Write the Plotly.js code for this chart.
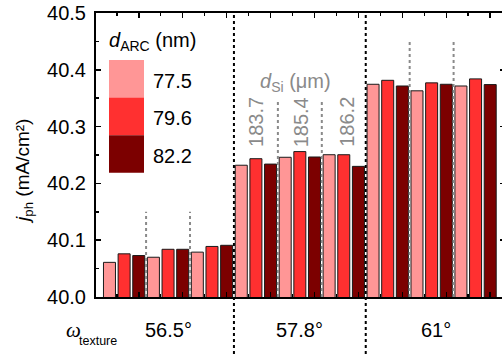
<!DOCTYPE html>
<html><head><meta charset="utf-8">
<script src="https://cdn.plot.ly/plotly-3.0.1.min.js"></script>
<style>html,body{margin:0;padding:0;background:#fff;overflow:hidden}#chart{width:506px;height:354px}</style>
</head><body><div id="chart"></div>
<script>
// ---- data ----
const textures = ['56.5°', '57.8°', '61°'];
const dSi = ['183.7', '185.4', '186.2'];
const dARC = ['77.5', '79.6', '82.2'];
const colors = ['#FF9696', '#FF3030', '#7C0000'];
// j_ph (mA/cm²) for each d_ARC, ordered texture-major then d_Si
const jph_775 = [40.061, 40.070, 40.079, 40.232, 40.246, 40.2505, 40.3745, 40.363, 40.3715];
const jph_796 = [40.076, 40.084, 40.089, 40.2435, 40.256, 40.2505, 40.3815, 40.377, 40.384];
const jph_822 = [40.073, 40.084, 40.091, 40.234, 40.2465, 40.230, 40.3715, 40.3745, 40.374];
const series = [jph_775, jph_796, jph_822];
// top of gray dotted d_Si separators per texture group
const sepTop = [40.15, 40.347, 40.452];

// ---- build ----
const nA = dARC.length, nS = dSi.length, nT = textures.length;
const traces = series.map((vals, a) => ({
  type: 'bar',
  x: vals.map((v, k) => k * nA + a),
  y: vals,
  width: 0.82,
  marker: {color: colors[a], line: {color: '#1a1a1a', width: 1}},
  showlegend: false,
  hoverinfo: 'y'
}));

const W = 506, H = 354, L = 96, R = 1, T = 13, B = 57;
const pw = W - L - R, ph = H - T - B;
const px = x => (x - L) / pw;
const py = y => (H - B - y) / ph;

const shapes = [], annotations = [];
const groupW = nA * nS;
// black dotted texture separators
for (let t = 1; t < nT; t++) {
  shapes.push({type: 'line', xref: 'x', yref: 'paper', x0: t * groupW - 0.5, x1: t * groupW - 0.5,
    y0: py(H), y1: 1, line: {color: '#000', width: 2, dash: 'dot'}});
}
// gray dotted d_Si separators
for (let t = 0; t < nT; t++) {
  for (let s = 1; s < nS; s++) {
    const xv = t * groupW + s * nA - 0.5;
    shapes.push({type: 'line', xref: 'x', yref: 'y', x0: xv, x1: xv, y0: 40, y1: sepTop[t],
      line: {color: '#8a8a8a', width: 2, dash: 'dot'}});
  }
}
// legend blocks
const blkTop = 60, blkH = 37.6;
dARC.forEach((lab, a) => {
  shapes.push({type: 'rect', xref: 'paper', yref: 'paper', x0: px(109), x1: px(144),
    y0: py(blkTop + (a + 1) * blkH), y1: py(blkTop + a * blkH), fillcolor: colors[a], line: {width: 0}});
  annotations.push({xref: 'paper', yref: 'paper', x: px(151), y: py(blkTop + a * blkH + blkH / 2 + 2),
    xanchor: 'left', yanchor: 'middle', text: lab, showarrow: false, font: {size: 20, color: '#000'}});
});
annotations.push({xref: 'paper', yref: 'paper', x: px(107), y: py(42), xanchor: 'left', yanchor: 'middle',
  text: '<i>d</i><sub>ARC</sub> (nm)', showarrow: false, font: {size: 20, color: '#000'}});
// d_Si labels
annotations.push({xref: 'paper', yref: 'paper', x: px(295), y: py(82), xanchor: 'center', yanchor: 'middle',
  text: '<i>d</i><sub>Si</sub> (μm)', showarrow: false, font: {size: 20, color: '#8a8a8a'}});
dSi.forEach((lab, s) => {
  annotations.push({xref: 'x', yref: 'y', x: groupW + s * nA + 1 + 0.1 * s, y: 40.308, textangle: -90,
    xanchor: 'center', yanchor: 'middle', text: lab, showarrow: false, font: {size: 20, color: '#8a8a8a'}});
});
// texture labels
textures.forEach((lab, t) => {
  annotations.push({xref: 'x', yref: 'paper', x: t * groupW + (groupW - 1) / 2 + (t === nT - 1 ? 0.3 : 0),
    y: py(330), xanchor: 'center', yanchor: 'middle', text: lab, showarrow: false, font: {size: 20, color: '#000'}});
});
annotations.push({xref: 'paper', yref: 'paper', x: px(64), y: py(330), xanchor: 'left', yanchor: 'middle',
  text: '<i>ω</i>', showarrow: false, font: {size: 21, color: '#000', family: 'Liberation Serif, Times New Roman, serif'}});
annotations.push({xref: 'paper', yref: 'paper', x: px(77), y: py(341), xanchor: 'left', yanchor: 'middle',
  text: 'texture', showarrow: false, font: {size: 12.5, color: '#000'}});
// y title
annotations.push({xref: 'paper', yref: 'paper', x: px(24), y: py(172), xanchor: 'center', yanchor: 'middle',
  textangle: -90, text: '<i>j</i><sub>ph</sub> (mA/cm²)', showarrow: false, font: {size: 19, color: '#000'}});

const layout = {
  width: W, height: H,
  margin: {l: L, r: R, t: T, b: B, pad: 0},
  paper_bgcolor: '#fff', plot_bgcolor: '#fff',
  font: {family: 'Liberation Sans, Arial, sans-serif', color: '#000'},
  barmode: 'overlay',
  xaxis: {range: [-0.92, 27.01], showgrid: false, zeroline: false, showline: true, linecolor: '#000', linewidth: 2,
    mirror: 'ticks', ticks: 'inside', ticklen: 5, tickwidth: 1.5, tickcolor: '#000',
    tickmode: 'linear', tick0: 2, dtick: 3, showticklabels: false,
    minor: {ticks: 'inside', ticklen: 3, tickwidth: 1.5, tickcolor: '#000', tick0: 0.5, dtick: 1.5}},
  yaxis: {range: [40, 40.5], showgrid: false, zeroline: false, showline: true, linecolor: '#000', linewidth: 2,
    mirror: 'ticks', ticks: 'inside', ticklen: 5, tickwidth: 1.5, tickcolor: '#000',
    tickmode: 'linear', tick0: 40, dtick: 0.1, tickformat: '.1f', tickfont: {size: 20, color: '#000'},
    ticklabelstandoff: 4,
    minor: {ticks: 'inside', ticklen: 3, tickwidth: 1.5, tickcolor: '#000', dtick: 0.05}},
  shapes: shapes,
  annotations: annotations
};
Plotly.newPlot('chart', traces, layout, {displayModeBar: false, staticPlot: true});
</script></body></html>
